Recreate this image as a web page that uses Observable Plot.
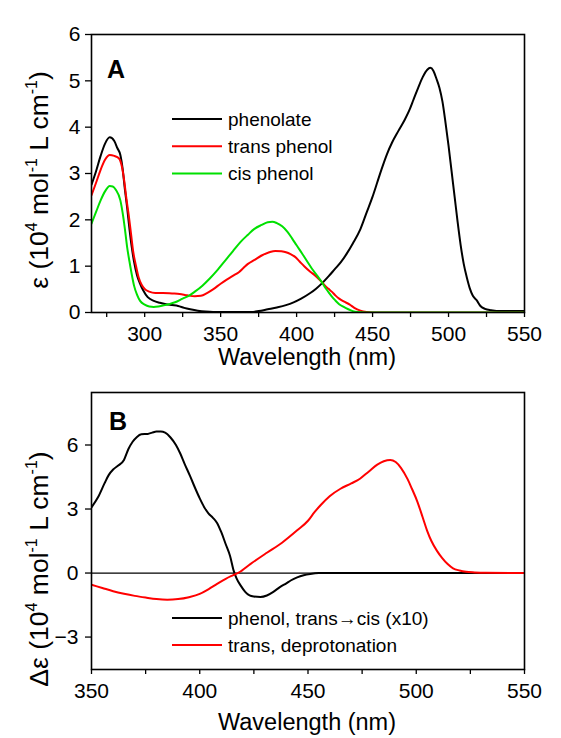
<!DOCTYPE html>
<html><head><meta charset="utf-8">
<script src="https://cdn.jsdelivr.net/npm/d3@7"></script>
<script src="https://cdn.jsdelivr.net/npm/@observablehq/plot@0.6"></script>
<style>
body{margin:0;background:#fff;}
#chart{width:561px;}
svg{display:block;}
</style></head><body><div id="chart"></div>
<script>
// ---------- Panel A data ----------
const phenolateWl  = [265,268,271,274,277,280,282,284,285.5,287,288.5,290,291.5,293,295,297,299,302,306,310,314,318,322,326,330,335,340,345,350,360,370,375,381,387,393,398,403,409,413,417,421,425,429,433,437,442,446,450,453,456,459.5,463,467,471,474,477,480,483,486,488,490,492,494,496,498,500,502,504,506,508,510,512,514,516,518.6,521,524,528,535,550];
const phenolateEps = [2.76,3.05,3.38,3.65,3.78,3.70,3.55,3.40,3.10,2.65,2.25,1.80,1.41,1.10,0.80,0.62,0.48,0.33,0.25,0.21,0.18,0.16,0.14,0.10,0.07,0.04,0.02,0.01,0.01,0.01,0.01,0.03,0.07,0.11,0.16,0.22,0.30,0.42,0.52,0.64,0.78,0.93,1.08,1.27,1.49,1.80,2.15,2.50,2.80,3.10,3.42,3.68,3.92,4.15,4.35,4.60,4.85,5.08,5.24,5.28,5.22,5.05,4.85,4.55,4.10,3.60,3.05,2.50,1.95,1.45,1.05,0.76,0.52,0.36,0.26,0.14,0.08,0.05,0.03,0.03];

const transWl  = [265,268,271,274,277,280,283,285,286.5,288,289.5,291,292.5,294,296,298,300,303,307,312,318,323,328,333,337,341,345,350,354,358,362,365,368,372,377,382,386,390,393,396,399,402,405,409,412.5,416.5,419,421,423.5,425.5,428,431,435,438,442,446,450,550];
const transEps = [2.53,2.80,3.08,3.30,3.40,3.38,3.33,3.15,2.85,2.45,2.10,1.70,1.30,1.05,0.76,0.60,0.51,0.45,0.42,0.42,0.41,0.40,0.37,0.35,0.36,0.42,0.50,0.62,0.71,0.79,0.87,0.96,1.05,1.13,1.23,1.30,1.33,1.32,1.30,1.26,1.20,1.10,1.00,0.88,0.79,0.66,0.57,0.51,0.44,0.37,0.30,0.24,0.17,0.10,0.04,0.01,0.0,0.0];

const cisWl  = [265,268,271,274,277,279,281,284,285.5,287,288.5,290,291.5,293,295,297,300,303,306,309,312,316,320,325,329,333,338,343,348,353,358,363,368,372,377,381,384,387,390.5,394,397,400,403.5,407,410,413,416.5,419,421,423.5,425.5,428,431,434,437,440,445,550];
const cisEps = [1.92,2.17,2.42,2.62,2.73,2.72,2.65,2.42,2.15,1.80,1.40,1.10,0.82,0.58,0.38,0.25,0.17,0.13,0.12,0.13,0.15,0.18,0.22,0.30,0.36,0.45,0.58,0.74,0.92,1.12,1.32,1.52,1.68,1.80,1.89,1.95,1.96,1.93,1.86,1.74,1.60,1.45,1.28,1.10,0.95,0.82,0.66,0.53,0.44,0.33,0.26,0.18,0.12,0.07,0.03,0.01,0.0,0.0];

// ---------- Panel B data ----------
const isoWl  = [350,353,356,358,360,362.5,365,367,369,371,373,376,378,380,382,384,386.5,389,391,393,395.5,398,400,402,404,406,408,410,412,414,415.7,417,419,421,423,425,428,431,434,437,440,442,445,448,451,455,550];
const isoDeps = [3.08,3.55,4.2,4.6,4.85,5.05,5.3,5.8,6.15,6.38,6.5,6.52,6.58,6.63,6.63,6.58,6.35,6.0,5.6,5.12,4.55,3.95,3.5,3.1,2.8,2.6,2.35,1.9,1.35,0.8,0.1,-0.25,-0.6,-0.88,-1.05,-1.1,-1.12,-1.05,-0.88,-0.66,-0.48,-0.35,-0.2,-0.1,-0.04,0,0];

const deprotWl  = [350,355,360,365,370,375,380,385,390,395,400,404,408,412,415,418,423.5,431,438,445,450,453,456,460,465,470,474,478,482,485,488,490.5,493,496,498,500.5,503,505,507,509.5,512,514.5,517,520,523,527,532,550];
const deprotDeps = [-0.55,-0.7,-0.85,-0.97,-1.07,-1.15,-1.22,-1.25,-1.22,-1.13,-0.98,-0.76,-0.51,-0.27,-0.12,0.02,0.43,0.95,1.42,2.0,2.45,2.85,3.2,3.6,3.95,4.2,4.42,4.75,5.08,5.24,5.3,5.2,4.92,4.4,3.95,3.35,2.6,1.99,1.5,1.05,0.7,0.42,0.22,0.12,0.06,0.03,0.01,0.0];

// ---------- ticks / labels ----------
const aXMajor = [300,350,400,450,500,550];
const aXMinor = [275,325,375,425,475,525];
const aYTicks = [0,1,2,3,4,5,6];
const bXMajor = [350,400,450,500,550];
const bXMinor = [375,425,475,525];
const bYTicks = [-3,0,3,6];
const aLegend = ["phenolate","trans phenol","cis phenol"];
const bLegend = ["phenol, trans\u2192cis (x10)","trans, deprotonation"];
const aColors = ["#000000","#ff0000","#00e000"];
const bColors = ["#000000","#ff0000"];
const xTitle = "Wavelength (nm)";

const rows = (xs, ys, s) => xs.map((x, i) => ({x, y: ys[i], s}));
const FONT = "'Liberation Sans', Arial, sans-serif";

const dataA = [
  ...rows(phenolateWl, phenolateEps, aLegend[0]),
  ...rows(transWl, transEps, aLegend[1]),
  ...rows(cisWl, cisEps, aLegend[2])
];
const dataB = [
  ...rows(isoWl, isoDeps, bLegend[0]),
  ...rows(deprotWl, deprotDeps, bLegend[1])
];

function panel({data, xDomain, yDomain, xMajor, xMinor, yTicks, height, mt, mb, domain, range, zero, xPad, yPad}) {
  return Plot.plot({
    width: 561, height,
    marginLeft: 91, marginRight: 37, marginTop: mt, marginBottom: mb,
    style: {fontFamily: FONT, color: "#000", background: "#fff", overflow: "visible"},
    x: {domain: xDomain},
    y: {domain: yDomain},
    color: {domain, range},
    marks: [
      zero ? Plot.ruleY([0], {stroke: "#000", strokeWidth: 1.3}) : null,
      Plot.line(data, {x: "x", y: "y", z: "s", stroke: "s", strokeWidth: 2, curve: "monotone-x", clip: true}),
      Plot.axisX(xMajor, {tickSize: 5, tickPadding: xPad, fontSize: 21, label: null, strokeWidth: 1.3}),
      Plot.axisX(xMinor, {tickSize: 5, text: null, label: null, strokeWidth: 1.3}),
      Plot.axisY(yTicks, {tickSize: 6, tickPadding: yPad, fontSize: 21, label: null, strokeWidth: 1.3}),
      Plot.frame({stroke: "#000", strokeWidth: 1.6})
    ]
  });
}

function yTitle(svg, x, y, prefix) {
  const t = d3.select(svg).append("text")
    .attr("transform", `translate(${x},${y}) rotate(-90)`)
    .attr("text-anchor", "middle").attr("font-size", 26.5).attr("fill", "#000")
    .attr("font-family", FONT);
  const sup = (s) => { t.append("tspan").attr("font-size", 16).attr("dy", -11).text(s); };
  const norm = (s) => { t.append("tspan").attr("font-size", 26.5).attr("dy", 11).text(s); };
  t.append("tspan").text(prefix + " (10");
  sup("4"); norm(" mol"); sup("-1"); norm(" L cm"); sup("-1"); norm(")");
}
function xTitleText(svg, x, y) {
  d3.select(svg).append("text").attr("x", x).attr("y", y).attr("text-anchor", "middle")
    .attr("font-size", 23.5).attr("font-family", FONT).attr("fill", "#000").text(xTitle);
}
function letter(svg, x, y, s) {
  d3.select(svg).append("text").attr("x", x).attr("y", y).attr("font-size", 25)
    .attr("text-anchor", "start")
    .attr("font-weight", "bold").attr("font-family", FONT).attr("fill", "#000").text(s);
}
function legend(svg, labels, colors, x0, y0, dy) {
  const g = d3.select(svg).append("g");
  labels.forEach((l, i) => {
    const y = y0 + i * dy;
    g.append("line").attr("x1", x0).attr("x2", x0 + 50).attr("y1", y).attr("y2", y)
      .attr("stroke", colors[i]).attr("stroke-width", 2);
    g.append("text").attr("x", x0 + 56).attr("y", y + 6.5).attr("font-size", 19)
      .attr("text-anchor", "start")
      .attr("font-family", FONT).attr("fill", "#000").text(l);
  });
}

const svgA = panel({data: dataA, xDomain: [265, 550], yDomain: [0, 6], xMajor: aXMajor, xMinor: aXMinor, yTicks: aYTicks,
  height: 370, mt: 34, mb: 58, domain: aLegend, range: aColors, zero: false, xPad: 9, yPad: 5});
yTitle(svgA, 48, 180, "\u03b5");
xTitleText(svgA, 307, 365);
letter(svgA, 107, 78, "A");
legend(svgA, aLegend, aColors, 172, 119, 27.2);

const svgB = panel({data: dataB, xDomain: [350, 550], yDomain: [-4.52, 8.46], xMajor: bXMajor, xMinor: bXMinor, yTicks: bYTicks,
  height: 368, mt: 22, mb: 69, domain: bLegend, range: bColors, zero: true, xPad: 9, yPad: 7});
yTitle(svgB, 48, 199, "\u0394\u03b5");
xTitleText(svgB, 307, 360);
letter(svgB, 109, 60, "B");
legend(svgB, bLegend, bColors, 172, 248, 27);

document.getElementById("chart").append(svgA, svgB);
</script>
</body></html>
